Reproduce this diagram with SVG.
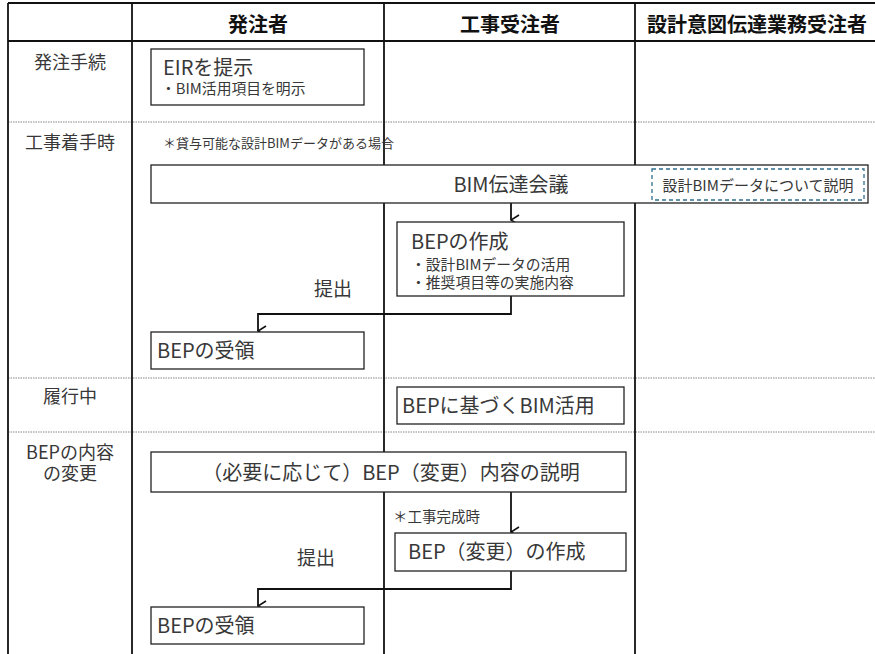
<svg xmlns="http://www.w3.org/2000/svg" width="875" height="654" viewBox="0 0 875 654">
<style>
text{font-family:"Noto Sans CJK JP","Noto Sans",sans-serif;fill:#383838}
.h{font-weight:bold;font-size:20px;fill:#111;text-anchor:middle}
.row{font-size:18px;text-anchor:middle}
.big{font-size:20px}
.sm{font-size:14.8px}
.box{fill:#fff;stroke:#222;stroke-width:1.3}
.grid{stroke:#111;stroke-width:1.8;fill:none}
.sep{stroke:#666;stroke-width:0.8;stroke-dasharray:1.5 1}
.con{stroke:#111;stroke-width:1.8;fill:none}
</style>
<defs>
<marker id="arr" viewBox="0 0 12 12" refX="6" refY="11" markerWidth="12" markerHeight="12" markerUnits="userSpaceOnUse" orient="auto-start-reverse">
<path d="M1,3 L6,11 L11,3" fill="none" stroke="#111" stroke-width="1.6"/>
</marker>
</defs>
<rect width="875" height="654" fill="#fff"/>
<g id="table">
<line class="sep" x1="8" y1="122" x2="875" y2="122"/>
<line class="sep" x1="8" y1="378" x2="875" y2="378"/>
<line class="sep" x1="8" y1="432" x2="875" y2="432"/>
<line class="grid" x1="8" y1="3" x2="875" y2="3"/>
<line class="grid" x1="8" y1="41" x2="875" y2="41"/>
<line class="grid" x1="8" y1="3" x2="8" y2="654"/>
<line class="grid" x1="132" y1="3" x2="132" y2="654"/>
<line class="grid" x1="384" y1="3" x2="384" y2="654"/>
<line class="grid" x1="635" y1="3" x2="635" y2="654"/>
<text class="h" x="258" y="32">発注者</text>
<text class="h" x="510" y="32">工事受注者</text>
<text class="h" x="757" y="32">設計意図伝達業務受注者</text>
<text class="row" x="70" y="69">発注手続</text>
<text class="row" x="70" y="149">工事着手時</text>
<text class="row" x="70" y="403">履行中</text>
<text class="row" x="70" y="459">BEPの内容</text>
<text class="row" x="70" y="480">の変更</text>
</g>
<g id="connectors">
<line class="con" x1="511" y1="203" x2="511" y2="220" marker-end="url(#arr)"/>
<polyline class="con" points="511,296 511,314 258,314 258,331" marker-end="url(#arr)"/>
<line class="con" x1="511" y1="492" x2="511" y2="532" marker-end="url(#arr)"/>
<polyline class="con" points="511,571 511,589 258,589 258,606" marker-end="url(#arr)"/>
<text x="333" y="296" text-anchor="middle" style="font-size:19px">提出</text>
<text x="316" y="565" text-anchor="middle" style="font-size:19px">提出</text>
</g>
<g id="eir">
<rect class="box" x="151" y="49" width="213" height="56"/>
<text class="big" x="163" y="75">EIRを提示</text>
<text class="sm" x="161" y="94">・BIM活用項目を明示</text>
</g>
<text x="163" y="148" style="font-size:13px">＊貸与可能な設計BIMデータがある場合</text>
<g id="bim-meeting">
<rect class="box" x="151" y="165" width="717" height="38"/>
<text class="big" x="511" y="192" text-anchor="middle">BIM伝達会議</text>
<rect x="652" y="169" width="212" height="31" fill="none" stroke="#2e6f8e" stroke-width="1.3" stroke-dasharray="4 3"/>
<text x="758" y="191" text-anchor="middle" style="font-size:15px">設計BIMデータについて説明</text>
</g>
<g id="bep-create">
<rect class="box" x="397" y="222" width="227" height="74"/>
<text class="big" x="411" y="249">BEPの作成</text>
<text class="sm" x="411" y="270">・設計BIMデータの活用</text>
<text class="sm" x="411" y="288">・推奨項目等の実施内容</text>
</g>
<g id="bep-receive1">
<rect class="box" x="151" y="332" width="213" height="37"/>
<text class="big" x="157" y="358">BEPの受領</text>
</g>
<g id="bep-use">
<rect class="box" x="397" y="387" width="227" height="37"/>
<text class="big" x="402" y="413">BEPに基づくBIM活用</text>
</g>
<g id="bep-explain">
<rect class="box" x="151" y="452" width="475" height="40"/>
<text class="big" x="391" y="480" text-anchor="middle">（必要に応じて）BEP（変更）内容の説明</text>
</g>
<text x="393" y="522" style="font-size:14.5px">＊工事完成時</text>
<g id="bep-change">
<rect class="box" x="395" y="533" width="231" height="38"/>
<text class="big" x="408" y="559">BEP（変更）の作成</text>
</g>
<g id="bep-receive2">
<rect class="box" x="151" y="607" width="213" height="37"/>
<text class="big" x="157" y="633">BEPの受領</text>
</g>
</svg>
